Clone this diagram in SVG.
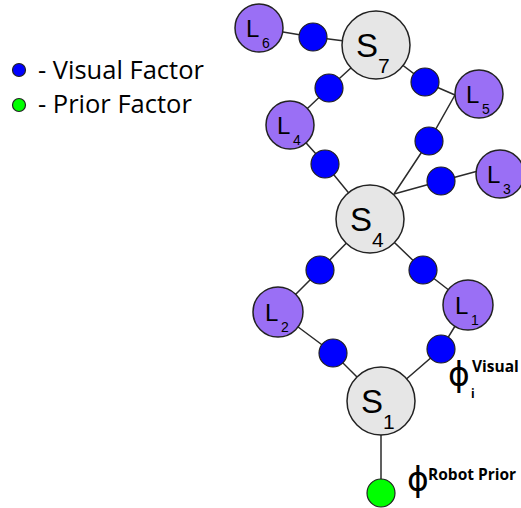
<svg xmlns="http://www.w3.org/2000/svg" width="521" height="508" viewBox="0 0 521 508">
  <style>
    .edge { stroke: #2b2b2b; stroke-width: 1.5; fill: none; }
    .state { fill: #e6e6e6; stroke: #222; stroke-width: 1.5; }
    .lm { fill: #9a6ff5; stroke: #222; stroke-width: 1.5; }
    .vis { fill: #0000ff; stroke: #222; stroke-width: 1.2; }
    .pri { fill: #00ff00; stroke: #222; stroke-width: 1.2; }
    text { font-family: "Liberation Sans", Arial, sans-serif; fill: #000; }
    .big { font-size: 33px; }
    .bigsub { font-size: 21px; }
    .mid { font-size: 24px; }
    .midsub { font-size: 14px; }
    .legend { font-family: "Open Sans", "Liberation Sans", sans-serif; font-size: 25.5px; }
    .phi { font-family: "DejaVu Sans", sans-serif; font-size: 33px; }
    .sup { font-family: "Open Sans", "Liberation Sans", sans-serif; font-size: 15.5px; font-weight: bold; }
  </style>

  <!-- legend -->
  <g id="legend">
    <circle cx="19" cy="70" r="6.5" class="vis"/>
    <text x="38" y="79" class="legend">- Visual Factor</text>
    <circle cx="19" cy="105" r="6.5" class="pri"/>
    <text x="38" y="113" class="legend">- Prior Factor</text>
  </g>

  <!-- connectors -->
  <g id="edges">
    <polyline class="edge" points="376,45 313,37 259,28"/>
    <polyline class="edge" points="376,45 329,88 290,125"/>
    <polyline class="edge" points="376,45 425,82 455,95"/>
    <polyline class="edge" points="455,95 429,141 394,194"/>
    <polyline class="edge" points="394,194 441,181 478,171"/>
    <polyline class="edge" points="290,125 325,164 370,219"/>
    <polyline class="edge" points="370,219 320,270 278,312"/>
    <polyline class="edge" points="370,219 423,270 468,305"/>
    <polyline class="edge" points="278,312 333,353 381,401"/>
    <polyline class="edge" points="468,305 441,349 381,401"/>
    <line class="edge" x1="381" y1="401" x2="381" y2="493"/>
  </g>

  <!-- visual factors -->
  <g id="factors">
    <circle cx="313" cy="37" r="14" class="vis"/>
    <circle cx="329" cy="88" r="14" class="vis"/>
    <circle cx="425" cy="82" r="14" class="vis"/>
    <circle cx="429" cy="141" r="14" class="vis"/>
    <circle cx="441" cy="181" r="14" class="vis"/>
    <circle cx="325" cy="164" r="14" class="vis"/>
    <circle cx="320" cy="270" r="14" class="vis"/>
    <circle cx="423" cy="270" r="14" class="vis"/>
    <circle cx="333" cy="353" r="14" class="vis"/>
    <circle cx="441" cy="349" r="14" class="vis"/>
  </g>
  <g id="prior">
    <circle cx="381" cy="493" r="14" class="pri"/>
  </g>

  <!-- robot states -->
  <g id="S7">
    <circle cx="376" cy="45" r="34" class="state"/>
    <text x="356" y="57" class="big">S</text>
    <text x="378" y="73" class="bigsub">7</text>
  </g>
  <g id="S4">
    <circle cx="370" cy="219" r="34" class="state"/>
    <text x="350" y="231" class="big">S</text>
    <text x="372" y="247" class="bigsub">4</text>
  </g>
  <g id="S1">
    <circle cx="381" cy="401" r="34" class="state"/>
    <text x="361" y="413" class="big">S</text>
    <text x="383" y="429" class="bigsub">1</text>
  </g>

  <!-- landmarks -->
  <g id="L6">
    <circle cx="259" cy="28" r="24" class="lm"/>
    <text x="246" y="37" class="mid">L</text>
    <text x="262" y="48" class="midsub">6</text>
  </g>
  <g id="L4">
    <circle cx="290" cy="125" r="24" class="lm"/>
    <text x="277" y="134" class="mid">L</text>
    <text x="293" y="145" class="midsub">4</text>
  </g>
  <g id="L5">
    <circle cx="479" cy="94" r="24" class="lm"/>
    <text x="466" y="103" class="mid">L</text>
    <text x="482" y="114" class="midsub">5</text>
  </g>
  <g id="L3">
    <circle cx="500" cy="174" r="24" class="lm"/>
    <text x="487" y="183" class="mid">L</text>
    <text x="503" y="194" class="midsub">3</text>
  </g>
  <g id="L2">
    <circle cx="278" cy="312" r="25" class="lm"/>
    <text x="265" y="321" class="mid">L</text>
    <text x="281" y="332" class="midsub">2</text>
  </g>
  <g id="L1">
    <circle cx="468" cy="305" r="25" class="lm"/>
    <text x="455" y="314" class="mid">L</text>
    <text x="471" y="325" class="midsub">1</text>
  </g>

  <!-- factor labels -->
  <g id="phi-visual">
    <text x="448" y="386" class="phi">ϕ</text>
    <text x="472" y="372" class="sup">Visual</text>
    <text x="471" y="398" class="sup" style="font-size:12px">i</text>
  </g>
  <g id="phi-prior">
    <text x="407" y="491" class="phi">ϕ</text>
    <text x="428" y="480" class="sup">Robot Prior</text>
  </g>
</svg>
